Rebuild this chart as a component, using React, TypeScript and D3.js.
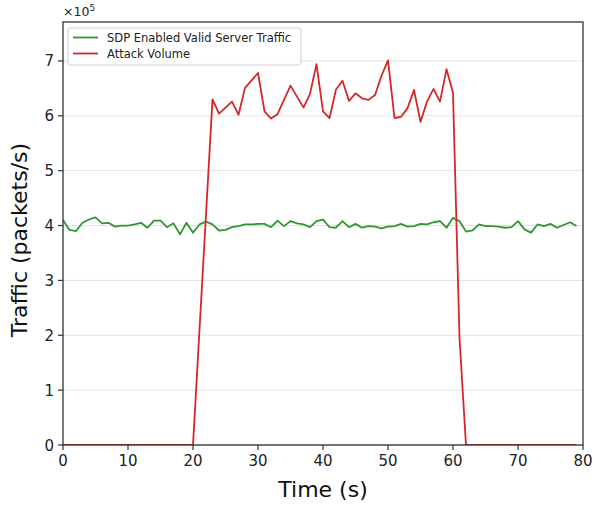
import React from "react";
import * as d3 from "d3";

// time axis (s) shared by the valid traffic series
const timeSec = d3.range(0, 80);

// SDP enabled valid server traffic, x10^5 packets/s
const validTraffic = [
  4.10, 3.92, 3.90, 4.05, 4.11, 4.15, 4.04, 4.05, 3.98, 4.00,
  4.00, 4.02, 4.05, 3.96, 4.09, 4.09, 3.97, 4.04, 3.84, 4.05,
  3.87, 4.02, 4.07, 4.02, 3.91, 3.92, 3.97, 3.99, 4.02, 4.02,
  4.03, 4.03, 3.97, 4.09, 3.99, 4.08, 4.04, 4.02, 3.97, 4.08,
  4.11, 3.97, 3.96, 4.08, 3.97, 4.03, 3.96, 3.99, 3.98, 3.95,
  3.98, 3.99, 4.03, 3.98, 3.99, 4.03, 4.02, 4.06, 4.08, 3.96,
  4.14, 4.08, 3.89, 3.91, 4.02, 3.99, 3.99, 3.98, 3.96, 3.97,
  4.08, 3.93, 3.87, 4.02, 3.99, 4.03, 3.96, 4.01, 4.06, 3.99,
];

// attack volume vertices (s, x10^5 packets/s)
const attackTime = [
  0, 20, 23, 24, 26, 27, 28, 30, 31, 32, 33, 35, 37, 38, 39, 40, 41, 42, 43,
  44, 45, 46, 47, 48, 49, 50, 51, 52, 53, 54, 55, 56, 57, 58, 59, 60, 61, 62, 79,
];
const attackVolume = [
  0, 0, 6.30, 6.04, 6.26, 6.02, 6.51, 6.78, 6.08, 5.95, 6.03, 6.55, 6.15, 6.40,
  6.94, 6.08, 5.96, 6.48, 6.64, 6.27, 6.41, 6.32, 6.29, 6.38, 6.73, 7.01, 5.96,
  5.98, 6.14, 6.47, 5.89, 6.26, 6.49, 6.26, 6.85, 6.42, 1.95, 0, 0,
];

const xTicks = [0, 10, 20, 30, 40, 50, 60, 70, 80];
const yTicks = [0, 1, 2, 3, 4, 5, 6, 7];

const seriesNames = ["SDP Enabled Valid Server Traffic", "Attack Volume"];
const seriesColors = ["#319631", "#d62728"];

export default function App() {
  const W = 594;
  const H = 510;
  const left = 63;
  const right = 583;
  const top = 22;
  const bottom = 445;
  const font = "DejaVu Sans, sans-serif";

  const x = d3.scaleLinear().domain([0, 80]).range([left, right]);
  const y = d3.scaleLinear().domain([0, 7.71]).range([bottom, top]);

  const validLine = d3
    .line<number>()
    .x((d, i) => x(timeSec[i]))
    .y((d) => y(d));
  const attackLine = d3
    .line<number>()
    .x((d, i) => x(attackTime[i]))
    .y((d) => y(d));

  return (
    <svg
      width={W}
      height={H}
      style={{ position: "absolute", left: 0, top: 0, background: "#fff" }}
      fontFamily={font}
    >
      <defs>
        <clipPath id="plotArea">
          <rect x={left} y={top} width={right - left} height={bottom - top} />
        </clipPath>
      </defs>

      {/* horizontal grid */}
      {yTicks.map((t) => (
        <line
          key={"g" + t}
          x1={left}
          x2={right}
          y1={y(t)}
          y2={y(t)}
          stroke="#e3e3e3"
          strokeWidth={1}
        />
      ))}

      <g clipPath="url(#plotArea)" fill="none" strokeWidth={1.8} strokeLinejoin="round">
        <path d={validLine(validTraffic) || ""} stroke={seriesColors[0]} />
        <path d={attackLine(attackVolume) || ""} stroke={seriesColors[1]} />
      </g>

      {/* frame */}
      <rect
        x={left}
        y={top}
        width={right - left}
        height={bottom - top}
        fill="none"
        stroke="#333"
        strokeWidth={1.3}
      />

      {/* x ticks */}
      {xTicks.map((t) => (
        <g key={"x" + t}>
          <line x1={x(t)} x2={x(t)} y1={bottom} y2={bottom + 5} stroke="#333" strokeWidth={1.2} />
          <text x={x(t)} y={bottom + 21} textAnchor="middle" fontSize={15} fill="#222">
            {t}
          </text>
        </g>
      ))}

      {/* y ticks */}
      {yTicks.map((t) => (
        <g key={"y" + t}>
          <line x1={left - 5} x2={left} y1={y(t)} y2={y(t)} stroke="#333" strokeWidth={1.2} />
          <text x={left - 9} y={y(t) + 5.5} textAnchor="end" fontSize={15} fill="#222">
            {t}
          </text>
        </g>
      ))}

      {/* offset label */}
      <text x={left} y={16} fontSize={12.5} fill="#222">
        ×10
        <tspan dy={-5} fontSize={9}>
          5
        </tspan>
      </text>

      {/* axis labels */}
      <text x={(left + right) / 2} y={497} textAnchor="middle" fontSize={22} fill="#111">
        Time (s)
      </text>
      <text
        transform="translate(27,240) rotate(-90)"
        textAnchor="middle"
        fontSize={22}
        fill="#111"
      >
        Traffic (packets/s)
      </text>

      {/* legend */}
      <rect
        x={68}
        y={28}
        width={233}
        height={37}
        rx={3}
        fill="#fff"
        fillOpacity={0.85}
        stroke="#d0d0d0"
      />
      {seriesNames.map((name, i) => (
        <g key={name}>
          <line
            x1={73}
            x2={98}
            y1={37.5 + i * 16}
            y2={37.5 + i * 16}
            stroke={seriesColors[i]}
            strokeWidth={1.8}
          />
          <text x={107} y={42 + i * 16} fontSize={11.5} fill="#222">
            {name}
          </text>
        </g>
      ))}
    </svg>
  );
}
